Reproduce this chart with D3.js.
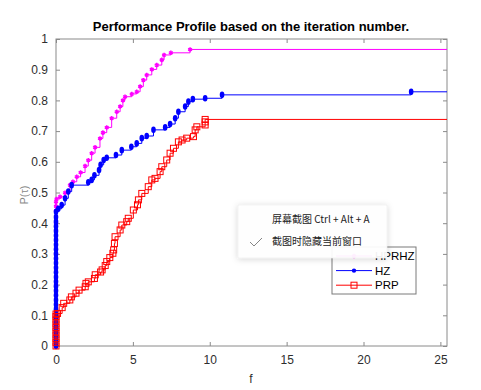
<!DOCTYPE html>
<html>
<head>
<meta charset="utf-8">
<script src="https://cdn.jsdelivr.net/npm/d3@7"></script>
<style>
  body { margin: 0; background: #fff; }
  text { font-family: Arial, "Liberation Sans", sans-serif; }
</style>
</head>
<body>
<script>
// set the dimensions and margins of the graph
var margin = {top: 39, right: 34, bottom: 44, left: 56},
    width = 481 - margin.left - margin.right,
    height = 390 - margin.top - margin.bottom;

// performance profile data, [t, P(t)] pairs
const hprhzData = [[0,0],[0,0.1],[0,0.2],[0,0.3],[0,0.4],[0,0.44],[0,0.455],[0,0.47],[0.04,0.479],[0.26,0.486],[0.59,0.499],
  [0.91,0.524],[1.1,0.535],[1.35,0.551],[1.6,0.565],[1.89,0.586],[2.1,0.605],[2.32,0.628],[2.54,0.647],[2.86,0.676],
  [3.05,0.695],[3.3,0.712],[3.62,0.742],[3.95,0.763],[4.17,0.78],[4.35,0.8],[4.49,0.812],[4.93,0.821],[5.25,0.828],
  [5.47,0.845],[5.68,0.866],[5.9,0.883],[6.23,0.901],[6.55,0.915],[6.88,0.932],[7.03,0.948],[7.47,0.955],[8.72,0.966]];

const hzData = [[0,0],[0,0.015],[0,0.03],[0,0.045],[0,0.06],[0,0.075],[0,0.09],[0,0.105],[0,0.12],[0,0.135],[0,0.15],
  [0,0.165],[0,0.18],[0,0.195],[0,0.21],[0,0.225],[0,0.24],[0,0.255],[0,0.27],[0,0.285],[0,0.3],[0,0.315],[0,0.33],
  [0,0.345],[0,0.36],[0,0.375],[0,0.39],[0,0.405],[0,0.42],[0,0.437],[0.15,0.447],[0.37,0.459],[0.59,0.481],[0.8,0.503],[1.02,0.524],
  [2.1,0.533],[2.32,0.541],[2.5,0.556],[2.8,0.573],[2.9,0.59],[3.1,0.606],[3.3,0.613],[3.9,0.622],[4.28,0.638],
  [4.9,0.649],[5.25,0.66],[5.58,0.677],[5.9,0.684],[6.34,0.704],[7.1,0.712],[7.42,0.723],[7.75,0.742],[7.96,0.763],
  [8.4,0.78],[8.61,0.796],[8.9,0.804],[9.7,0.807],[10.8,0.818],[23.1,0.828]];

const prpData = [[0,0],[0,0.012],[0,0.024],[0,0.036],[0,0.048],[0,0.06],[0,0.072],[0,0.084],[0,0.096],[0,0.104],
  [0.1,0.106],[0.4,0.125],[0.5,0.139],[0.9,0.15],
  [1.0,0.16],[1.3,0.172],[1.5,0.182],[1.9,0.193],[1.95,0.204],[2.1,0.209],[2.5,0.22],[2.55,0.232],[2.9,0.241],
  [3.0,0.248],[3.2,0.262],[3.3,0.275],[3.5,0.288],[3.7,0.302],[3.75,0.313],[3.8,0.334],[3.84,0.356],[4.17,0.378],
  [4.28,0.394],[4.6,0.405],[4.7,0.416],[5.03,0.443],[5.3,0.46],[5.36,0.476],[5.58,0.497],[6.0,0.519],[6.23,0.541],
  [6.44,0.546],[6.77,0.568],[6.88,0.584],[7.2,0.606],[7.42,0.628],[7.64,0.644],[7.96,0.665],[8.2,0.671],[8.5,0.677],
  [8.94,0.682],[9.05,0.704],[9.16,0.714],[9.7,0.72],[9.7,0.73],[9.7,0.738]];

const seriesNames = ["HPRHZ", "HZ", "PRP"];
const xTicks = [0, 5, 10, 15, 20, 25];
const yTicks = [0, 0.1, 0.2, 0.3, 0.4, 0.5, 0.6, 0.7, 0.8, 0.9, 1];
const xMax = 25.43;

const svg = d3.select('body')
  .append("svg")
    .attr("width", 481)
    .attr("height", 390)
    .style("display", "block");

const g = svg.append("g")
  .attr("transform", `translate(${margin.left},${margin.top})`);

const x = d3.scaleLinear().domain([0, xMax]).range([0, width]);
const y = d3.scaleLinear().domain([0, 1]).range([height, 0]);

const axisColor = "#8a8a8a";
const labelColor = "#2e2e2e";

// axes (MATLAB box style, ticks inside)
function styleAxis(sel) {
  sel.select(".domain").remove();
  sel.selectAll(".tick line").attr("stroke", axisColor);
  sel.selectAll(".tick text").attr("fill", labelColor).style("font-size", "12px");
}
g.append("g").attr("transform", `translate(0,${height})`)
  .call(d3.axisBottom(x).tickValues(xTicks).tickSizeInner(-4).tickPadding(9).tickFormat(d3.format("d")))
  .call(styleAxis);
g.append("g")
  .call(d3.axisTop(x).tickValues(xTicks).tickSizeInner(-4).tickFormat(""))
  .call(styleAxis);
g.append("g")
  .call(d3.axisLeft(y).tickValues(yTicks).tickSizeInner(-4).tickPadding(8).tickFormat(d => d3.format("")(+d.toFixed(1))))
  .call(styleAxis);
g.append("g").attr("transform", `translate(${width},0)`)
  .call(d3.axisRight(y).tickValues(yTicks).tickSizeInner(-4).tickFormat(""))
  .call(styleAxis);
g.append("rect")
  .attr("width", width).attr("height", height)
  .attr("fill", "none").attr("stroke", axisColor).attr("stroke-width", 1);

// stairs
const line = d3.line()
  .x(d => x(d[0])).y(d => y(d[1]))
  .curve(d3.curveStepAfter);

function withEnd(data) {
  return data.concat([[xMax, data[data.length - 1][1]]]);
}

const series = [
  {name: seriesNames[0], data: hprhzData, color: "#ff00ff"},
  {name: seriesNames[1], data: hzData, color: "#0000ff"},
  {name: seriesNames[2], data: prpData, color: "#ff0000"}
];

const plot = g.append("g");

function drawMarker(sel, i, color, legendMode) {
  if (i === 0) {
    sel.append("path")
      .attr("d", d3.symbol(d3.symbolAsterisk, 14)())
      .attr("stroke", color).attr("stroke-width", 1.5).attr("fill", "none");
  } else if (i === 1) {
    if (legendMode) {
      sel.append("circle").attr("r", 2.2).attr("fill", color);
    } else {
      sel.append("ellipse").attr("rx", 2.3).attr("ry", 3.3).attr("fill", color);
    }
  } else {
    sel.append("rect")
      .attr("x", -3).attr("y", -3).attr("width", 6).attr("height", 6)
      .attr("fill", "none").attr("stroke", color).attr("stroke-width", 1);
  }
}

series.forEach((s, i) => {
  plot.append("path")
    .datum(withEnd(s.data))
    .attr("fill", "none")
    .attr("stroke", s.color)
    .attr("stroke-width", 1)
    .attr("d", line);
  plot.selectAll(".m" + i)
    .data(s.data)
    .enter().append("g")
      .attr("class", "m" + i)
      .attr("transform", d => `translate(${x(d[0])},${y(d[1])})`)
      .each(function() { drawMarker(d3.select(this), i, s.color, false); });
});

// title and labels
svg.append("text")
  .attr("x", 251).attr("y", 31)
  .attr("text-anchor", "middle")
  .style("font-size", "13px").style("font-weight", "bold")
  .attr("fill", "#000")
  .text("Performance Profile based on the iteration number.");

svg.append("text")
  .attr("x", 251).attr("y", 383)
  .attr("text-anchor", "middle")
  .style("font-size", "12px")
  .attr("fill", labelColor)
  .text("f");

svg.append("text")
  .attr("transform", "translate(28,195) rotate(-90)")
  .attr("text-anchor", "middle")
  .style("font-size", "11px")
  .attr("fill", "#888")
  .text("P(τ)");

// legend
const legend = svg.append("g").attr("transform", "translate(332,247)");
legend.append("rect")
  .attr("width", 84).attr("height", 47)
  .attr("fill", "#fff").attr("stroke", "#7a7a7a").attr("stroke-width", 1);
series.forEach((s, i) => {
  const row = legend.append("g").attr("transform", `translate(0,${9 + i * 14.6})`);
  row.append("line")
    .attr("x1", 4).attr("x2", 40)
    .attr("stroke", s.color).attr("stroke-width", 1);
  drawMarker(row.append("g").attr("transform", "translate(22,0)"), i, s.color, true);
  row.append("text")
    .attr("x", 43).attr("y", 4)
    .style("font-size", "11.5px")
    .attr("fill", "#000")
    .text(s.name);
});

// screenshot context menu overlay
const defs = svg.append("defs");
const shadow = defs.append("filter").attr("id", "shadow")
  .attr("x", "-20%").attr("y", "-30%").attr("width", "140%").attr("height", "160%");
shadow.append("feDropShadow")
  .attr("dx", 0).attr("dy", 1).attr("stdDeviation", 3)
  .attr("flood-color", "#000").attr("flood-opacity", 0.18);

const menu = svg.append("g").attr("transform", "translate(238,205)");
menu.append("rect")
  .attr("width", 149).attr("height", 53)
  .attr("fill", "#fff").attr("fill-opacity", 0.93)
  .attr("stroke", "#e6e6e6").attr("stroke-width", 0.5)
  .attr("filter", "url(#shadow)");
menu.append("text")
  .attr("x", 34).attr("y", 18)
  .style("font-family", "'Noto Sans CJK SC', sans-serif")
  .style("font-size", "10px")
  .attr("fill", "#222")
  .text("屏幕截图 Ctrl + Alt + A");
menu.append("path")
  .attr("d", "M12,37 L16,41 L24,33")
  .attr("fill", "none").attr("stroke", "#777").attr("stroke-width", 0.9);
menu.append("text")
  .attr("x", 34).attr("y", 40)
  .style("font-family", "'Noto Sans CJK SC', sans-serif")
  .style("font-size", "10px")
  .attr("fill", "#222")
  .text("截图时隐藏当前窗口");
</script>
</body>
</html>
